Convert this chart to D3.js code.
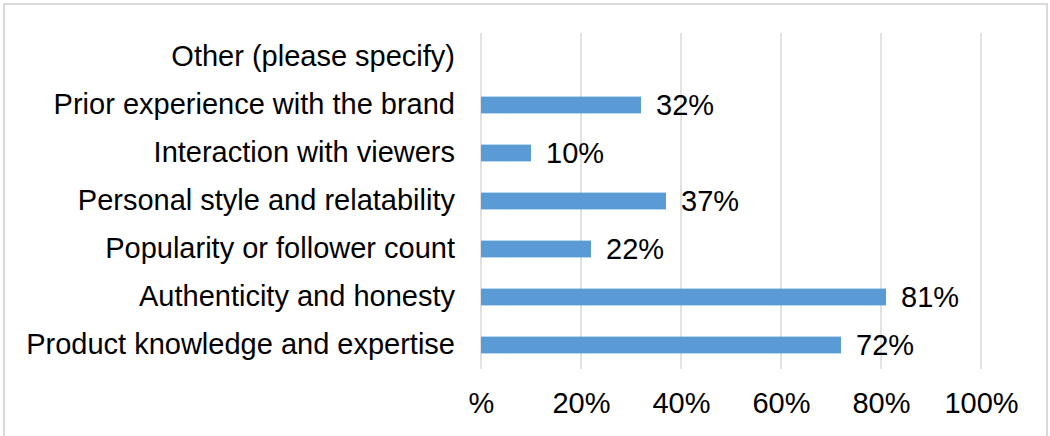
<!DOCTYPE html>
<html>
<head>
<meta charset="utf-8">
<script src="https://cdn.jsdelivr.net/npm/d3@7"></script>
<style>
  html, body { margin: 0; padding: 0; background: #fff; }
  svg { display: block; }
  text { font-family: "Liberation Sans", Arial, sans-serif; fill: #000; }
</style>
</head>
<body>
<svg id="chart" width="1050" height="436"></svg>
<script>
// Survey categories, listed top to bottom
const categories = [
  "Other (please specify)",
  "Prior experience with the brand",
  "Interaction with viewers",
  "Personal style and relatability",
  "Popularity or follower count",
  "Authenticity and honesty",
  "Product knowledge and expertise"
];
// Share of respondents (%), null where no bar is drawn
const values = [null, 32, 10, 37, 22, 81, 72];
// Axis tick values and the labels shown under them
const tickValues = [0, 20, 40, 60, 80, 100];
const tickLabels = ["%", "20%", "40%", "60%", "80%", "100%"];

const svg = d3.select("#chart");
const fontSize = 29;

// Outer frame
svg.append("rect")
  .attr("x", 4).attr("y", 4)
  .attr("width", 1043).attr("height", 440)
  .attr("fill", "none")
  .attr("stroke", "#d9d9d9")
  .attr("stroke-width", 2);

const x = d3.scaleLinear().domain([0, 100]).range([481, 981]);
const y = d3.scaleBand().domain(categories).range([33, 369])
  .paddingInner(0.65).paddingOuter(0.325);

// Vertical gridlines
svg.append("g").selectAll("line")
  .data(tickValues)
  .join("line")
  .attr("x1", d => x(d)).attr("x2", d => x(d))
  .attr("y1", 33).attr("y2", 369)
  .attr("stroke", "#d9d9d9")
  .attr("stroke-width", 1.5);

// Bottom axis labels
const xAxis = d3.axisBottom(x)
  .tickValues(tickValues)
  .tickFormat((d, i) => tickLabels[i])
  .tickSize(0)
  .tickPadding(0);
const gx = svg.append("g").attr("transform", "translate(0,392)").call(xAxis);
gx.select(".domain").remove();
gx.selectAll("text")
  .attr("dy", "0.71em")
  .style("font-size", fontSize + "px")
  .style("font-family", "'Liberation Sans', Arial, sans-serif")
  .attr("fill", "#000");

// Category labels
const yAxis = d3.axisLeft(y).tickSize(0).tickPadding(26);
const gy = svg.append("g").attr("transform", `translate(${x(0)},0)`).call(yAxis);
gy.select(".domain").remove();
gy.selectAll("text")
  .style("font-size", fontSize + "px")
  .style("font-family", "'Liberation Sans', Arial, sans-serif")
  .attr("fill", "#000");

const rows = categories.map((c, i) => ({ c, v: values[i] })).filter(d => d.v != null);

// Bars
svg.append("g").selectAll("rect")
  .data(rows)
  .join("rect")
  .attr("x", x(0))
  .attr("y", d => y(d.c))
  .attr("width", d => x(d.v) - x(0))
  .attr("height", y.bandwidth())
  .attr("fill", "#5b9bd5");

// Value labels
svg.append("g").selectAll("text")
  .data(rows)
  .join("text")
  .attr("x", d => x(d.v) + 15)
  .attr("y", d => y(d.c) + y.bandwidth() / 2)
  .attr("dy", "0.35em")
  .style("font-size", fontSize + "px")
  .text(d => d.v + "%");
</script>
</body>
</html>
